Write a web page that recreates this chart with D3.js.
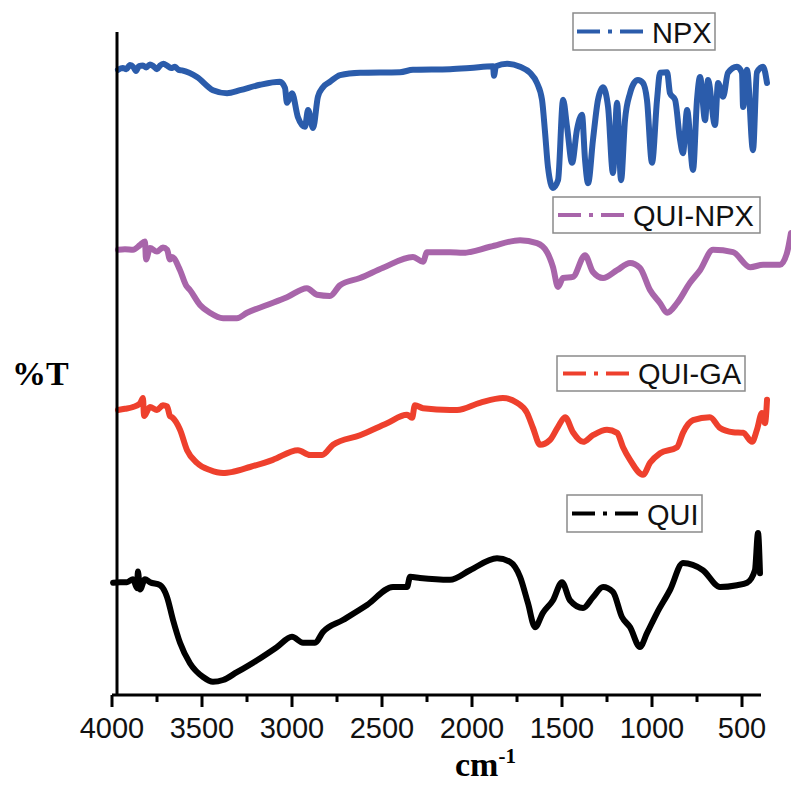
<!DOCTYPE html>
<html>
<head>
<meta charset="utf-8">
<script src="https://cdn.jsdelivr.net/npm/d3@7/dist/d3.min.js"></script>
<style>
  html, body { margin: 0; padding: 0; background: #fff; }
  svg { display: block; }
</style>
</head>
<body>
<svg id="chart" width="791" height="785"></svg>
<script>
// FTIR spectra, stacked with vertical offsets (%T, arbitrary units)
const seriesNames = ["NPX", "QUI-NPX", "QUI-GA", "QUI"];
const seriesColors = ["#2b5cab", "#a865aa", "#ee402d", "#000000"];

const npxWave = [3967,3940,3920,3900,3880,3867,3850,3828,3810,3789,3770,3750,3733,3714,3694,3672,3650,3630,3611,3528,3439,3361,3289,3178,3067,3039,3028,3000,2967,2928,2911,2883,2856,2828,2789,2733,2622,2400,2328,2122,2011,1883,1878,1867,1805,1733,1678,1639,1611,1594,1578,1550,1522,1494,1472,1444,1417,1389,1372,1355,1328,1300,1272,1244,1217,1194,1172,1150,1122,1100,1078,1050,1028,1000,972,955,916,900,872,844,828,805,772,750,733,705,689,650,633,605,578,528,500,494,472,439,417,383,361];
const npxT    = [104.2,104.5,104.3,105,104.6,104,104.8,104.9,104.6,105.1,104.8,104.3,104.9,105.2,104.9,104.5,104.7,104.2,104.1,103,100.8,100.3,100.8,101.7,102.2,101.2,98.7,100.3,96.3,94.7,97.5,94.5,99.7,101.3,102.2,103.3,103.7,103.8,104.2,104.3,104.5,104.8,103.2,104.8,105.2,104.7,103.7,102,99.2,93.7,88,84.5,85.8,99.2,94.7,88.7,94.2,96.7,89.2,85.3,92.5,99.2,101.3,98,87,98.7,85.8,95.8,100.3,102,102.5,102,99.2,88.7,99.2,103.7,103.8,100.3,99.2,92.5,90.3,97.5,87.5,99.2,103,95.8,102.5,95,102,99.7,103.7,104.7,103.7,98,104.2,90.8,103.8,104.7,102];

const quiNpxWave = [3967,3928,3883,3844,3817,3811,3789,3750,3717,3694,3678,3667,3622,3589,3567,3511,3456,3383,3306,3250,3139,3028,2917,2861,2789,2733,2622,2494,2328,2272,2250,2122,2050,1900,1733,1639,1583,1550,1522,1494,1439,1372,1328,1272,1194,1122,1067,1011,955,916,861,789,733,661,550,455,383,289,250,228];
const quiNpxT    = [74.2,74.3,74.2,75,75.6,72.6,74.5,73.9,74.6,74.2,72.6,73,70.8,68.3,67.5,65,63.7,62.8,62.8,63.7,65,66.3,67.8,66.7,66.5,68.3,69.5,71.2,73,72.2,73.8,73.8,73.7,74.7,75.8,75.3,73.8,71.3,68,69.5,69.7,73.3,70.5,69.5,70.8,72,71.2,67.5,65.3,63.7,65.3,68.7,70.8,74.2,73.8,71.3,71.7,71.7,73.7,77];

const quiGaWave = [3967,3928,3883,3844,3828,3822,3789,3750,3717,3694,3678,3667,3622,3583,3528,3456,3383,3328,3233,3106,2967,2900,2833,2772,2622,2472,2361,2333,2317,2272,2122,2083,1956,1828,1750,1694,1661,1622,1567,1522,1483,1439,1383,1328,1250,1194,1161,1122,1050,1011,955,861,828,772,678,622,550,494,444,417,389,372,361];
const quiGaT    = [47.5,47.7,48,48.6,49.5,46.5,48,47.5,48.3,48.1,46.5,46.3,44.2,40.8,38.7,37.5,37,37.2,38,39.2,40.8,40,40,41.7,43.3,45.3,46.7,46.2,48.3,47.8,47.5,47.5,48.7,49.5,48.7,47,44.5,41.7,42.5,44.7,46.3,43.8,42.2,43.3,44.2,43.7,41.3,39.2,36.7,38.7,40.3,41.3,43.7,45.8,46.3,44.5,43.8,43.7,42.2,44.2,47,45.3,49.2];

const quiWave = [3994,3956,3917,3883,3861,3856,3844,3817,3789,3733,3706,3694,3661,3622,3567,3494,3439,3383,3306,3194,3083,3000,2939,2872,2828,2717,2583,2439,2361,2344,2289,2122,2011,1861,1789,1733,1689,1650,1606,1550,1500,1456,1383,1328,1272,1217,1167,1122,1067,1028,972,900,828,717,622,528,472,428,411,400];
const quiT    = [18.7,18.8,18.8,19.3,17.8,20.6,17.6,19.3,18.8,18.3,17.2,16.3,12.5,8.7,5.3,3,2.2,2.5,3.8,5.8,8,9.7,8.7,8.7,10.5,12.5,15,18,18,19.7,19.5,19.2,20.8,22.8,22.2,19.7,15.3,11.3,13.7,15.8,18.8,15.8,14.5,16.3,18,17.2,13,11.3,8,10.3,13.7,17.5,22,20.8,18,18.3,18.7,20.8,27,20.3];

const xTickMajor = [4000, 3500, 3000, 2500, 2000, 1500, 1000, 500];
const xTickMinor = [3750, 3250, 2750, 2250, 1750, 1250, 750];

const waves = [npxWave, quiNpxWave, quiGaWave, quiWave];
const trans = [npxT, quiNpxT, quiGaT, quiT];

const svg = d3.select("#chart");

const x = d3.scaleLinear().domain([4000, 400]).range([112, 760]);
const y = d3.scaleLinear().domain([0, 110]).range([695, 35]);

// spectra
const line = d3.line()
  .x(d => x(d[0]))
  .y(d => y(d[1]))
  .curve(d3.curveMonotoneX);

seriesNames.forEach((name, i) => {
  const pts = waves[i].map((w, j) => [w, trans[i][j]]);
  svg.append("path")
    .datum(pts)
    .attr("fill", "none")
    .attr("stroke", seriesColors[i])
    .attr("stroke-width", 6)
    .attr("stroke-linejoin", "round")
    .attr("stroke-linecap", "round")
    .attr("d", line);
});

// x axis
const axisY = 695;
svg.append("line")
  .attr("x1", 112).attr("x2", 761)
  .attr("y1", axisY).attr("y2", axisY)
  .attr("stroke", "#000").attr("stroke-width", 3);

svg.selectAll("line.major").data(xTickMajor).enter().append("line")
  .attr("class", "major")
  .attr("x1", d => x(d)).attr("x2", d => x(d))
  .attr("y1", axisY).attr("y2", axisY + 12)
  .attr("stroke", "#000").attr("stroke-width", 3);

svg.selectAll("line.minor").data(xTickMinor).enter().append("line")
  .attr("class", "minor")
  .attr("x1", d => x(d)).attr("x2", d => x(d))
  .attr("y1", axisY).attr("y2", axisY + 7)
  .attr("stroke", "#000").attr("stroke-width", 3);

svg.selectAll("text.tick").data(xTickMajor).enter().append("text")
  .attr("class", "tick")
  .attr("x", d => x(d)).attr("y", 738)
  .attr("text-anchor", "middle")
  .attr("font-family", "'Liberation Sans', Arial, sans-serif")
  .attr("font-size", 29)
  .attr("fill", "#111")
  .text(d => d);

// y axis line
svg.append("line")
  .attr("x1", 117).attr("x2", 117)
  .attr("y1", 32).attr("y2", axisY + 1)
  .attr("stroke", "#000").attr("stroke-width", 3);

// axis titles
svg.append("text")
  .attr("x", 12).attr("y", 385)
  .attr("font-family", "'Liberation Serif', 'Times New Roman', serif")
  .attr("font-weight", "bold")
  .attr("font-size", 34)
  .text("%T");

const xt = svg.append("text")
  .attr("x", 455).attr("y", 776)
  .attr("font-family", "'Liberation Serif', 'Times New Roman', serif")
  .attr("font-weight", "bold")
  .attr("font-size", 34);
xt.append("tspan").text("cm");
xt.append("tspan").attr("dy", -13).attr("font-size", 21).text("-1");

// legends, one per spectrum
const legendBoxes = [
  {x0: 573, x1: 715, y0: 13, y1: 50},
  {x0: 553, x1: 760, y0: 197, y1: 233},
  {x0: 557, x1: 745, y0: 356, y1: 391},
  {x0: 567, x1: 702, y0: 495, y1: 532}
];
const sampleStart = [577, 558, 563, 572];

seriesNames.forEach((name, i) => {
  const b = legendBoxes[i];
  const g = svg.append("g");
  g.append("rect")
    .attr("x", b.x0).attr("y", b.y0)
    .attr("width", b.x1 - b.x0).attr("height", b.y1 - b.y0)
    .attr("fill", "#fff")
    .attr("stroke", "#8a8a8a").attr("stroke-width", 1.5);
  const cy = (b.y0 + b.y1) / 2;
  g.append("line")
    .attr("x1", sampleStart[i]).attr("x2", sampleStart[i] + 66)
    .attr("y1", cy).attr("y2", cy)
    .attr("stroke", seriesColors[i]).attr("stroke-width", 4)
    .attr("stroke-dasharray", "23,8,4,8,23");
  g.append("text")
    .attr("x", sampleStart[i] + 75).attr("y", b.y1 - 7)
    .attr("font-family", "'Liberation Sans', Arial, sans-serif")
    .attr("font-size", 29)
    .attr("fill", "#111")
    .text(name);
});
</script>
</body>
</html>
